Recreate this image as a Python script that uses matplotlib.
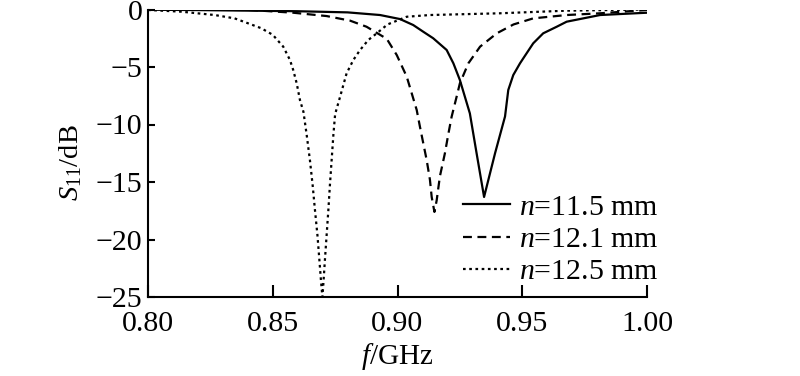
import matplotlib
matplotlib.use("Agg")
import matplotlib.pyplot as plt

plt.rcParams['font.family'] = ['Liberation Serif', 'DejaVu Serif']
plt.rcParams['mathtext.fontset'] = 'custom'
plt.rcParams['mathtext.rm'] = 'Liberation Serif'
plt.rcParams['mathtext.it'] = 'Liberation Serif:italic'

# n = 11.5 mm (solid)
f_a = [0.80, 0.82, 0.84, 0.86, 0.88, 0.893, 0.901, 0.9063, 0.9103, 0.9143, 0.9197,
       0.9224, 0.9250, 0.9270, 0.9290, 0.9317, 0.9347, 0.9391, 0.9431, 0.9444,
       0.9464, 0.9491, 0.9504, 0.9544, 0.9584, 0.9638, 0.9678, 0.9745, 0.9812, 1.00]
s_a = [-0.02, -0.05, -0.1, -0.15, -0.25, -0.48, -0.83, -1.35, -1.93, -2.5, -3.52,
       -4.68, -6.13, -7.58, -9.03, -12.5, -16.3, -12.5, -9.3, -7.0,
       -5.7, -4.68, -4.25, -2.94, -2.07, -1.5, -1.06, -0.77, -0.48, -0.28]

# n = 12.1 mm (dashed)
f_b = [0.80, 0.8409, 0.8582, 0.8716, 0.8810, 0.8876, 0.8957, 0.8997, 0.9037, 0.9077,
       0.9090, 0.9103, 0.9117, 0.9130, 0.9137, 0.9148, 0.9157, 0.9170, 0.9190, 0.9204,
       0.9217, 0.9237, 0.9250, 0.9284, 0.9331, 0.9398, 0.9465, 0.9544, 0.9678, 0.9812, 1.00]
s_b = [-0.02, -0.04, -0.28, -0.57, -0.97, -1.5, -2.55, -3.96, -5.84, -8.74,
       -10.2, -11.6, -13.1, -14.8, -16.3, -17.6, -16.6, -14.5, -12.5, -10.8,
       -9.32, -7.58, -6.42, -4.68, -3.23, -2.07, -1.3, -0.77, -0.48, -0.33, -0.04]

# n = 12.5 mm (dotted)
f_c = [0.80, 0.8134, 0.8267, 0.8347, 0.8401, 0.8454, 0.8500, 0.8542, 0.8569, 0.8582,
       0.8596, 0.8609, 0.8623, 0.8636, 0.8649, 0.8660, 0.8669, 0.8679, 0.8687, 0.8693,
       0.8699, 0.8703, 0.8709, 0.8716, 0.8723, 0.8729, 0.8736, 0.8743, 0.8750, 0.8770,
       0.8796, 0.8823, 0.8850, 0.8883, 0.8917, 0.8960, 0.9037, 0.913, 0.941, 0.968, 1.00]
s_c = [-0.04, -0.19, -0.48, -0.77, -1.2, -1.63, -2.2, -3.23, -4.39, -5.26,
       -6.42, -7.87, -8.9, -10.9, -13.1, -15.3, -17.4, -19.6, -21.8, -23.5,
       -25.0, -23.8, -21.8, -19.6, -17.4, -15.3, -13.1, -10.9, -9.1, -7.58,
       -5.55, -4.39, -3.52, -2.65, -2.07, -1.3, -0.63, -0.48, -0.33, -0.1, 0.0]

labels = ['$n$=11.5 mm', '$n$=12.1 mm', '$n$=12.5 mm']
x_ticks = [0.80, 0.85, 0.90, 0.95, 1.00]
x_ticklabels = ['0.80', '0.85', '0.90', '0.95', '1.00']
y_ticks = [0, -5, -10, -15, -20, -25]
y_ticklabels = ['0', '\u22125', '\u221210', '\u221215', '\u221220', '\u221225']

fig = plt.figure(figsize=(8, 3.76), dpi=100)
ax = fig.add_axes([148/800, (376-297)/376, (647-148)/800, (297-9.5)/376])

ax.plot(f_a, s_a, color='black', lw=1.6, linestyle='-', label=labels[0])
ax.plot(f_b, s_b, color='black', lw=1.6, dashes=(4, 2.5), label=labels[1])
ax.plot(f_c, s_c, color='black', lw=1.6, dashes=(1.2, 1.6), label=labels[2])

ax.set_xlim(0.80, 1.00)
ax.set_ylim(-25, 0)
ax.set_xticks(x_ticks)
ax.set_xticklabels(x_ticklabels)
ax.set_yticks(y_ticks)
ax.set_yticklabels(y_ticklabels)

for s in ['top', 'right']:
    ax.spines[s].set_visible(False)
for s in ['left', 'bottom']:
    ax.spines[s].set_linewidth(1.5)

ax.tick_params(axis='x', direction='in', length=9, width=1.5, labelsize=21.5, pad=10)
ax.tick_params(axis='y', direction='in', length=5, width=1.5, labelsize=21.5, pad=4)

ax.set_xlabel('$f$/GHz', fontsize=21, labelpad=3)
ax.set_ylabel('$S_{11}$/dB', fontsize=20.5)
ax.yaxis.set_label_coords(-0.128, 0.466)

leg = ax.legend(loc='center left', bbox_to_anchor=(0.631, 0.2), frameon=False,
                fontsize=21.5, handlelength=1.57, handletextpad=0.3,
                labelspacing=0.18, borderpad=0, borderaxespad=0)

fig.savefig('out.png', dpi=100)
